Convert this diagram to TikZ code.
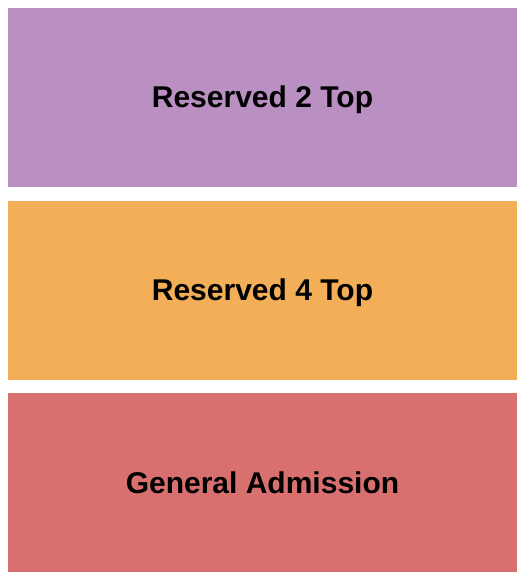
\documentclass[tikz,border=0pt]{standalone}
\usepackage{fontspec}
\setmainfont{Liberation Sans}
\definecolor{cpurple}{HTML}{BA90C2}
\definecolor{corange}{HTML}{F3AE58}
\definecolor{cred}{HTML}{D7706E}
\begin{document}
\begin{tikzpicture}[x=1pt,y=-1pt,
  zone/.style={inner sep=0pt, minimum width=509pt, minimum height=179pt, text height=21pt, text depth=0pt, font=\fontsize{30}{34}\selectfont\bfseries, text=black}]
\useasboundingbox (0,0) rectangle (525,580);
\fill[white] (0,0) rectangle (525,580);
\node[zone, fill=cpurple] (r2) at (262.5,97.5) {Reserved 2 Top};
\node[zone, fill=corange] (r4) at (262.5,290) {Reserved 4 Top};
\node[zone, fill=cred] (ga) at (262.5,482.5) {General Admission};
\end{tikzpicture}
\end{document}
